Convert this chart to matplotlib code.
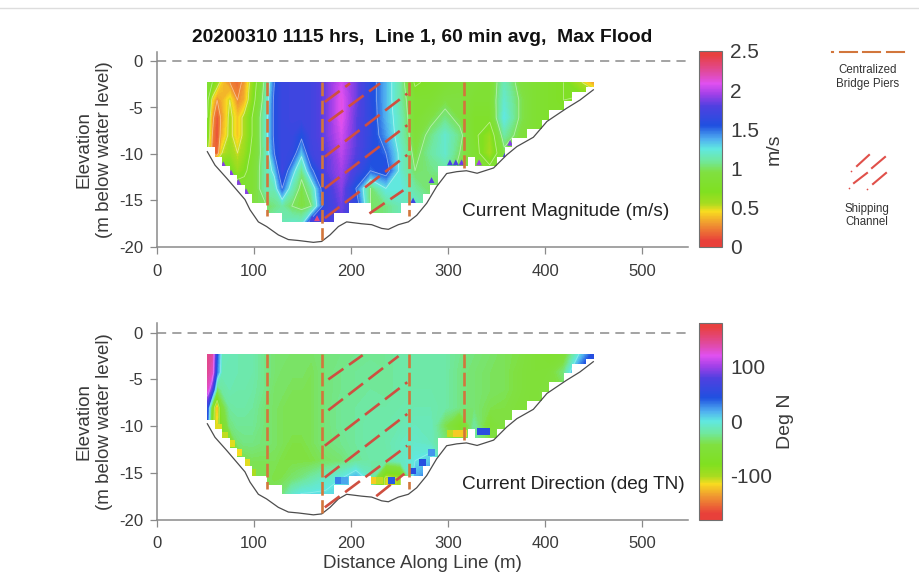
"""Cross section of current magnitude and direction along line 1."""

import matplotlib

matplotlib.use("Agg")

import matplotlib.pyplot as plt
import numpy as np
from matplotlib.colors import LinearSegmentedColormap
from matplotlib.lines import Line2D
from matplotlib.patches import Polygon

plt.rcParams["font.family"] = ["Liberation Sans", "DejaVu Sans"]
plt.rcParams["axes.unicode_minus"] = False

GRID_X = [52, 57, 62, 67, 75, 83, 90, 98, 113, 121, 129, 139, 149, 159, 174, 190, 205,
          220, 236, 251, 266, 282, 297, 312, 327, 343, 358, 373, 389, 404, 419, 435, 450]
GRID_Y = [-2.3, -4.2, -6.1, -8.0, -9.9, -11.8, -13.7, -15.6, -17.5]

MAGNITUDE = [
    [.85, .75, .60, .40, .25, .18, .30, .60, 1.1, 1.5, 1.68, 1.7, 1.7, 1.72, 1.85, 2.05, 1.85,
     1.6, 1.35, 1.1, .72, .80, .85, .90, .90, .85, 1.15, .95, .85, .80, .75, .55, .30],
    [.80, .45, .25, .35, .50, .25, .35, .65, 1.15, 1.55, 1.68, 1.7, 1.7, 1.72, 1.85, 2.1, 1.85,
     1.6, 1.35, 1.1, .85, .85, .95, .95, .85, .85, 1.2, 1.0, .85, .80, .75, .80, .80],
    [.75, .30, .12, .30, .55, .40, .55, .75, 1.2, 1.55, 1.68, 1.7, 1.7, 1.72, 1.85, 2.1, 1.82,
     1.62, 1.35, 1.15, .85, .95, 1.05, .95, .80, .80, 1.25, 1.0, .85, .80, .80, .80, .80],
    [.70, .25, .10, .35, .55, .40, .55, .75, 1.2, 1.55, 1.68, 1.68, 1.55, 1.72, 1.85, 2.05, 1.82,
     1.62, 1.4, 1.15, .90, 1.05, 1.2, 1.05, .80, .60, 1.1, .95, .85, .80, .80, .80, .80],
    [.55, .20, .15, .50, .60, .50, .60, .80, 1.15, 1.5, 1.68, 1.65, 1.3, 1.7, 1.8, 2.0, 1.8,
     1.6, 1.5, 1.2, .95, 1.1, 1.2, 1.0, .85, .55, .95, .90, .85, .80, .80, .80, .80],
    [1.0, 1.0, .95, .85, .75, .60, .70, .85, 1.15, 1.3, 1.7, 1.35, 1.05, 1.45, 1.8, 1.95, 1.72,
     1.5, 1.6, 1.2, 1.0, 1.05, 1.1, .95, .85, .85, .90, .85, .80, .80, .80, .80, .80],
    [1.0, 1.0, 1.0, 1.0, .95, .90, .85, .85, 1.15, 1.15, 1.5, 1.15, .95, 1.1, 1.7, 1.9, 1.5,
     1.0, 1.25, 1.25, 1.1, 1.0, .95, .90, .85, .85, .85, .85, .80, .80, .80, .80, .80],
    [1.0, 1.0, 1.0, 1.0, 1.0, 1.0, .95, .95, 1.0, 1.05, 1.1, 1.0, .95, 1.0, 1.65, 1.85, 1.65,
     1.0, 1.05, 1.15, 1.2, 1.1, 1.0, .90, .85, .85, .85, .85, .80, .80, .80, .80, .80],
    [1.0, 1.0, 1.0, 1.0, 1.0, 1.0, 1.0, 1.0, 1.1, 1.15, 1.15, 1.2, 1.2, 1.7, 1.75, 1.8, 1.6,
     1.0, 1.05, 1.15, 1.2, 1.1, 1.0, .90, .85, .85, .85, .85, .80, .80, .80, .80, .80],
]

DIRECTION = [
    [150, 140, 40, -12, -14, -16, -16, -18, -28, -32, -32, -35, -35, -35, -30, -28, -26,
     -25, -24, -20, -18, -18, -20, -26, -30, -34, -38, -42, -52, -60, -55, 0, 50],
    [145, 130, 30, -14, -14, -16, -16, -18, -28, -32, -35, -35, -35, -38, -30, -26, -24,
     -22, -24, -20, -18, -18, -20, -28, -32, -36, -38, -45, -52, -50, -30, 40, 50],
    [130, 70, -40, -22, -16, -18, -18, -20, -28, -35, -35, -38, -38, -38, -30, -26, -24,
     -22, -24, -20, -18, -18, -20, -28, -32, -36, -38, -45, -52, -46, -40, 40, 50],
    [50, -70, -140, -50, -22, -20, -20, -22, -32, -35, -38, -38, -38, -38, -30, -24, -22,
     -20, -20, -18, -16, -16, -20, -28, -32, -40, -42, -48, -52, -46, -40, 40, 50],
    [40, -90, -120, -70, -30, -24, -24, -24, -32, -35, -38, -38, -38, -38, -30, -24, -22,
     -18, -18, -16, -12, -12, -40, -70, -22, -55, -42, -48, -52, -46, -40, 40, 50],
    [-100, -100, -100, -100, -65, -32, -28, -28, -32, -35, -38, -42, -42, -38, -30, -26, -22,
     -18, -18, -12, -8, -12, -30, -50, -22, -40, -42, -48, -52, -46, -40, 40, 50],
    [-100, -100, -100, -100, -100, -65, -42, -38, -38, -38, -42, -42, -42, -42, -36, -32, -24,
     -20, -20, -12, 0, 10, -20, -50, -22, -40, -42, -48, -52, -46, -40, 40, 50],
    [-100, -100, -100, -100, -100, -75, -52, -40, -38, -42, -40, -34, -28, -20, -10, 0, 20,
     -10, -110, -100, 20, 40, 50, -22, -22, -40, -42, -48, -52, -46, -40, 40, 50],
    [-100, -100, -100, -100, -100, -75, -52, -40, -38, -34, -28, -5, 5, 5, 5, 5, 20,
     -10, -110, -100, 20, 40, 50, -22, -22, -40, -42, -48, -52, -46, -40, 40, 50],
]

# stepped lower edge of the measured cells, one value per ensemble
CELL_LEFT = 52
CELL_WIDTH = 7.66
CELL_BOTTOM = [-9.3, -10.3, -11.3, -12.3, -13.3, -14.3, -15.3, -15.3, -16.3, -16.3,
               -17.3, -17.3, -17.3, -17.3, -17.3, -17.3, -17.3, -16.3, -16.3, -15.3,
               -15.3, -15.3, -16.3, -16.3, -16.3, -16.3, -15.3, -15.3, -15.3, -14.3,
               -13.3, -11.3, -11.3, -11.3, -11.3, -10.3, -11.3, -11.3, -11.3, -10.3,
               -9.3, -8.3, -8.3, -7.3, -7.3, -6.3, -5.3, -5.3, -4.3, -3.3, -3.3, -2.8]
CELL_TOP = -2.3

BED_X = [51.9, 59.8, 71.8, 90.7, 95.9, 104.5, 113, 125.1, 135.4, 145.7, 161.2, 169.8, 178.4,
         187, 195.5, 211, 221.3, 231.6, 238.5, 248.8, 259.1, 267.7, 278, 288.3, 298.6, 309,
         319, 330, 347, 360.5, 371, 388, 402, 422, 436, 449.8]
BED_Y = [-9.75, -11.2, -12.6, -14.9, -16.0, -17.3, -17.8, -18.7, -19.2, -19.3, -19.5, -19.4,
         -18.7, -17.8, -17.3, -17.5, -17.6, -18, -18.1, -17.6, -17.3, -16.6, -15.3, -13.5,
         -12.1, -11.9, -11.8, -12.07, -11.5, -10.1, -9.2, -8.2, -6.5, -5.1, -4.2, -3.1]

PIER_X = [113, 170.5, 259.3, 316.8]
PIER_BOTTOM = [-16.7, -19.3, -16.7, -11.5]

CHANNEL_X0_TOP = [173, 176.6, 173, 173, 173, 219]
CHANNEL_Y0_TOP = [-4.4, -6.5, -10.3, -13.7, -16.9, -16.4]
CHANNEL_X1_TOP = [199, 230, 258, 258, 258, 254]
CHANNEL_Y1_TOP = [-2.4, -2.4, -3.5, -6.9, -10.1, -13.9]

CHANNEL_X0_BOT = [176.6, 176.6, 173, 173, 173, 226]
CHANNEL_Y0_BOT = [-5.0, -8.3, -12.1, -15.5, -18.7, -17.5]
CHANNEL_X1_BOT = [212, 249, 258, 258, 258, 255]
CHANNEL_Y1_BOT = [-2.4, -2.5, -5.3, -8.7, -12.1, -15.1]

# bed-adjacent bad cells: small triangles in magnitude, squares in direction
MAG_EDGE_X = [68.4, 76.3, 83.9, 91.8, 264, 283, 302, 308, 314, 332, 364, 359, 426, 160, 165, 171]
MAG_EDGE_Y = [-11.1, -12, -13, -14, -15, -12.8, -10.9, -10.9, -10.9, -10.9, -8.8, -10.1, -5, -16.9, -16.9, -16.9]
MAG_EDGE_V = [1.9, 1.9, 1.9, 1.9, 1.7, 1.8, 1.75, 1.75, 1.85, 1.95, 1.9, 1.8, 1.85, 1.75, 2.3, 1.75]

DIR_EDGE_X = [63, 70, 77, 84, 92.5, 99, 302, 309, 316, 333, 340, 222, 229, 187, 193, 242, 264, 274, 283]
DIR_EDGE_Y = [-10.1, -11, -11.9, -12.8, -13.9, -15, -10.8, -10.8, -10.8, -10.6, -10.6, -15.8, -15.8, -15.8, -15.8, -15.8, -14.8, -13.9, -12.8]
DIR_EDGE_V = [-110, -105, -110, -115, -110, -100, -105, -120, -120, 50, 50, -120, -105, 30, 20, 40, 50, 45, 25]

CMAP_POS = [0, .03, .12, .18, .22, .28, .38, .44, .50, .55, .62, .72, .78, .835, .895, .98, 1]
CMAP_COL = ["#e8403a", "#e8403a", "#f09a30", "#f8dc20", "#a8dc20", "#80e020", "#80e040",
            "#70e8a0", "#60e8e0", "#50b0f0", "#2050e0", "#5040e0", "#a040e8", "#e050f0",
            "#e04aa0", "#e84040", "#e84040"]

TEXT_COL = "#3a3a3a"
AXIS_COL = "#8a8a8a"
PIER_COL = "#d2763c"
CHANNEL_COL = "#cf4f40"

W, H = 920, 578

cmap = LinearSegmentedColormap.from_list("speed", list(zip(CMAP_POS, CMAP_COL)), N=256)


def px_axes(fig, left, top, right, bottom):
    return fig.add_axes([left / W, 1 - bottom / H, (right - left) / W, (bottom - top) / H])


def draw_section(ax, values, vmin, vmax, channel, edge, marker, size, contour_levels, line_alpha):
    x = np.array(GRID_X)
    y = np.array(GRID_Y)
    z = np.array(values, dtype=float)

    edges = CELL_LEFT + CELL_WIDTH * np.arange(len(CELL_BOTTOM) + 1)
    verts = [(edges[0], CELL_TOP), (edges[-1], CELL_TOP)]
    for i in range(len(CELL_BOTTOM) - 1, -1, -1):
        verts.append((edges[i + 1], CELL_BOTTOM[i]))
        verts.append((edges[i], CELL_BOTTOM[i]))
    clip = Polygon(verts, closed=True, transform=ax.transData)

    cs = ax.contourf(x, y, z, levels=np.linspace(vmin, vmax, 181), cmap=cmap,
                     vmin=vmin, vmax=vmax, antialiased=False, zorder=1)
    cs.set_clip_path(clip)
    lines = ax.contour(x, y, z, levels=contour_levels, colors="white", linewidths=0.6,
                       negative_linestyles="solid", alpha=line_alpha, zorder=2)
    lines.set_clip_path(clip)

    pts = ax.scatter(edge[0], edge[1], c=edge[2], cmap=cmap, vmin=vmin, vmax=vmax,
                     marker=marker, s=size, linewidths=0, zorder=3)
    pts.set_clip_path(clip)

    ax.plot(BED_X, BED_Y, color="#4d4d4d", lw=0.9, zorder=4)
    ax.axhline(0, color=AXIS_COL, lw=1.1, dashes=(6, 4), zorder=1)

    for px, pb in zip(PIER_X, PIER_BOTTOM):
        ax.plot([px, px], [CELL_TOP, pb], color=PIER_COL, lw=1.9, dashes=(5.2, 1.7), zorder=5)
    for x0, y0, x1, y1 in zip(*channel):
        ax.plot([x0, x1], [y0, y1], color=CHANNEL_COL, lw=1.9, dashes=(7, 2.6), zorder=6)

    ax.set_xlim(0, 547.4)
    ax.set_ylim(-20, 1)
    ax.set_xticks([0, 100, 200, 300, 400, 500])
    ax.set_yticks([0, -5, -10, -15, -20])
    ax.tick_params(colors=TEXT_COL, color=AXIS_COL, labelsize=12, length=5, width=0.9, pad=5)
    ax.tick_params(axis="x", pad=7)
    ax.spines["top"].set_visible(False)
    ax.spines["right"].set_visible(False)
    for side in ("left", "bottom"):
        ax.spines[side].set_color(AXIS_COL)
        ax.spines[side].set_linewidth(1.1)
    ax.set_ylabel("Elevation\n(m below water level)", fontsize=13.5, color=TEXT_COL, linespacing=1.3)
    ax.yaxis.set_label_coords(-0.083, 0.5)


def draw_colorbar(fig, cax, mappable_range, ticks, labels, title, label_x):
    sm = plt.cm.ScalarMappable(cmap=cmap, norm=plt.Normalize(*mappable_range))
    cb = fig.colorbar(sm, cax=cax)
    cb.set_ticks(ticks)
    cb.set_ticklabels(labels)
    cb.ax.tick_params(length=0, labelsize=15, colors=TEXT_COL, pad=6)
    cb.outline.set_edgecolor("#707070")
    cb.outline.set_linewidth(0.8)
    cb.set_label(title, fontsize=14, color=TEXT_COL)
    cax.yaxis.set_label_coords(label_x, 0.5)


fig = plt.figure(figsize=(W / 100, H / 100), dpi=100)

ax1 = px_axes(fig, 157, 51.7, 688, 247)
ax2 = px_axes(fig, 157, 323.4, 688, 519.5)

draw_section(ax1, MAGNITUDE, 0, 2.5,
             (CHANNEL_X0_TOP, CHANNEL_Y0_TOP, CHANNEL_X1_TOP, CHANNEL_Y1_TOP),
             (MAG_EDGE_X, MAG_EDGE_Y, MAG_EDGE_V), "^", 18,
             [.25, .5, .75, 1.0, 1.25, 1.5], 0.45)
draw_section(ax2, DIRECTION, -180, 180,
             (CHANNEL_X0_BOT, CHANNEL_Y0_BOT, CHANNEL_X1_BOT, CHANNEL_Y1_BOT),
             (DIR_EDGE_X, DIR_EDGE_Y, DIR_EDGE_V), "s", 24,
             [-100, 0, 100], 0.3)

ax2.set_xlabel("Distance Along Line (m)", fontsize=13.5, color=TEXT_COL, labelpad=3)

ax1.text(314, -16.2, "Current Magnitude (m/s)", fontsize=13.8, color="#222222", va="center")
ax2.text(314, -16.2, "Current Direction (deg TN)", fontsize=13.7, color="#222222", va="center")

fig.text(422 / W, 1 - 38 / H, "20200310 1115 hrs,  Line 1, 60 min avg,  Max Flood",
         fontsize=13.85, fontweight="bold", color="#111111", ha="center", va="center")

cax1 = px_axes(fig, 699, 51, 722, 247)
cax2 = px_axes(fig, 699, 323, 722, 519.5)
draw_colorbar(fig, cax1, (0, 2.5), [0, .5, 1, 1.5, 2, 2.5], ["0", "0.5", "1", "1.5", "2", "2.5"], "m/s", 2.9)
draw_colorbar(fig, cax2, (-180, 180), [-100, 0, 100], ["-100", "0", "100"], "Deg N", 3.4)

# hand drawn key on the right, in pixel units
key = fig.add_axes([0, 0, 1, 1], facecolor="none")
key.set_xlim(0, W)
key.set_ylim(H, 0)
key.axis("off")
key.plot([832, 833.5], [51.7, 51.7], color=PIER_COL, lw=1.5)
for x0, x1 in [(840, 857), (863, 880), (887, 904)]:
    key.plot([x0, x1], [51.7, 51.7], color=PIER_COL, lw=1.5)
key.text(867.5, 77, "Centralized\nBridge Piers", fontsize=8.3, color="#333333", ha="center", va="center")
for x0, y0, x1, y1 in [(857, 166, 869, 155), (872, 168, 885, 157), (854, 183, 867, 173), (873, 184, 886, 173)]:
    key.plot([x0, x1], [y0, y1], color="#e0504a", lw=1.5)
key.scatter([851.5, 849, 867], [170.5, 187.5, 188.5], s=1.5, color="#e0504a", linewidths=0)
key.text(867, 215.5, "Shipping\nChannel", fontsize=8.3, color="#333333", ha="center", va="center")

fig.add_artist(Line2D([0, 1], [1 - 7.5 / H, 1 - 7.5 / H], color="#dddddd", lw=1))

fig.savefig("out.png", dpi=100)
